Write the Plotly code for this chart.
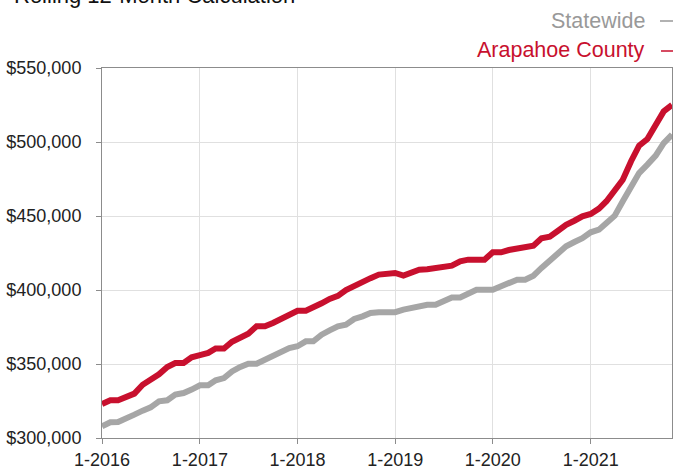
import plotly.graph_objects as go
import pandas as pd

months = pd.date_range("2016-01-01", "2021-11-01", freq="MS")

arapahoe = [323, 325.5, 325.5, 328, 330, 336, 339, 343, 348, 350.7, 350.7, 354.5,
            356, 357.5, 360.5, 360.5, 365, 368, 370.5, 375.5, 375.5, 377.7, 380.6, 383,
            386, 386, 388, 391, 394, 396, 400, 403, 405.4, 408, 410.4, 410.8,
            411.5, 409.7, 412, 413.7, 414, 414.9, 415.3, 416.4, 419.4, 420.5, 420.5, 420.5,
            425.5, 425.5, 427, 428, 428.8, 430, 435, 436, 440, 444, 446.8, 449.8,
            451.4, 455, 460, 466.7, 474.5, 487, 497.5, 502, 510.6, 520.7, 525]
statewide = [307.9, 310.6, 310.8, 312.8, 315.8, 318.5, 320.7, 324.8, 325.5, 329.3, 330.4, 332.7,
             335.6, 335.6, 339, 340.5, 345, 348, 350.2, 350.2, 353, 355.2, 358.6, 360.8,
             362, 365.3, 365.3, 369.8, 372.7, 375.5, 376.6, 380.4, 382.2, 384.5, 385, 385,
             385, 386.7, 387.8, 389.4, 390, 390, 392.3, 395, 395, 398, 400.2, 400.2,
             400.2, 402.5, 405.2, 407, 407, 409.7, 414.9, 420, 425.5, 429.5, 432.4, 435,
             439, 440.8, 445.3, 450.2, 460, 470, 479, 484.7, 490.8, 499.3, 505]
arapahoe = [v * 1000 for v in arapahoe]
statewide = [v * 1000 for v in statewide]

tick_dates = ["2016-01-01", "2017-01-01", "2018-01-01", "2019-01-01", "2020-01-01", "2021-01-01"]
tick_labels = ["1-2016", "1-2017", "1-2018", "1-2019", "1-2020", "1-2021"]
y_ticks = [300000, 350000, 400000, 450000, 500000, 550000]

RED = "#c8102e"
GRAY = "#a6a6a6"
FONT = "Liberation Sans, Arial, Helvetica, sans-serif"

fig = go.Figure()
fig.add_trace(go.Scatter(x=months, y=statewide, mode="lines", name="Statewide",
                         line=dict(color=GRAY, width=6), showlegend=False))
fig.add_trace(go.Scatter(x=months, y=arapahoe, mode="lines", name="Arapahoe County",
                         line=dict(color=RED, width=6), showlegend=False))

axis_common = dict(showline=True, linecolor="#8c8c8c", linewidth=1, mirror=True,
                   showgrid=True, gridcolor="#e0e0e0", gridwidth=1,
                   ticks="outside", ticklen=5, tickcolor="#8c8c8c",
                   tickfont=dict(family=FONT, size=18, color="#222222"), zeroline=False)

fig.update_xaxes(range=[months[0], months[-1]], tickvals=tick_dates, ticktext=tick_labels,
                 **axis_common)
fig.update_yaxes(range=[300000, 550000], tickvals=y_ticks, tickformat="$,.0f",
                 ticklabelstandoff=11, **axis_common)

fig.update_layout(
    width=673, height=470,
    margin=dict(l=102, r=1, t=68, b=32),
    plot_bgcolor="white", paper_bgcolor="white",
    font=dict(family=FONT),
    annotations=[
        dict(text="Rolling 12-Month Calculation", xref="paper", yref="paper",
             x=(11.7 - 102) / 570, y=(438 - 10.5) / 370, xanchor="left", yanchor="bottom",
             showarrow=False, font=dict(size=22, color="#111111", family=FONT)),
        dict(text="Statewide", xref="paper", yref="paper",
             x=(647 - 102) / 570, y=(438 - 20.5) / 370, xanchor="right", yanchor="middle",
             showarrow=False, font=dict(size=21.5, color="#999999", family=FONT)),
        dict(text="Arapahoe County", xref="paper", yref="paper",
             x=(647 - 102) / 570, y=(438 - 50.5) / 370, xanchor="right", yanchor="middle",
             showarrow=False, font=dict(size=21.5, color=RED, family=FONT)),
    ],
    shapes=[
        dict(type="line", xref="paper", yref="paper",
             x0=(660 - 102) / 570, x1=(676 - 102) / 570,
             y0=(438 - 21) / 370, y1=(438 - 21) / 370,
             line=dict(color="#999999", width=1.5)),
        dict(type="line", xref="paper", yref="paper",
             x0=(661 - 102) / 570, x1=(676 - 102) / 570,
             y0=(438 - 51) / 370, y1=(438 - 51) / 370,
             line=dict(color=RED, width=1.5)),
    ],
)

fig.write_html("out.html", config={"displayModeBar": False},
               post_script="document.body.style.margin='0px';")
